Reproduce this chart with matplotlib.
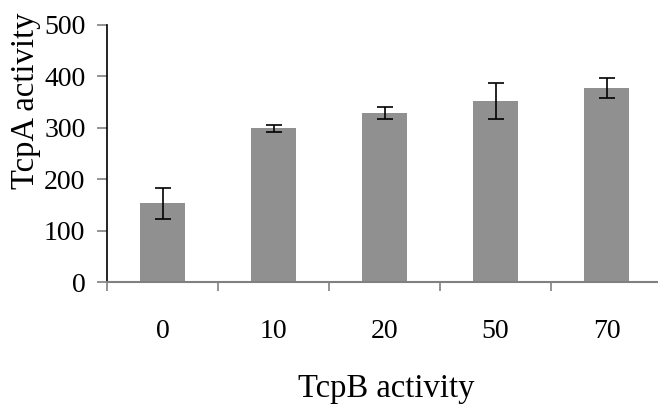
import matplotlib
matplotlib.use("Agg")
import matplotlib.pyplot as plt
import numpy as np

# data
categories = ["0", "10", "20", "50", "70"]
values = [153, 299, 329, 353, 377]
errors = [30, 7, 11, 35, 19]

plt.rcParams["font.family"] = ["Liberation Serif", "DejaVu Serif"]

fig = plt.figure(figsize=(6.58, 4.07), dpi=100)
ax = fig.add_axes([107 / 658, 1 - 282 / 407, 555 / 658, 257 / 407])

x = np.arange(len(categories))
ax.bar(x, values, width=0.41, color="#909090", zorder=2)
ax.errorbar(x, values, yerr=errors, fmt="none", ecolor="black",
            elinewidth=1.2, capsize=6, capthick=1.2, zorder=3)

ax.set_xlim(-0.5, len(categories) - 0.5)
ax.set_ylim(0, 500)
ax.set_yticks(range(0, 501, 100))

# category ticks between the bars, labels centred under the bars
ax.set_xticks(np.arange(len(categories) + 1) - 0.5)
ax.set_xticklabels([])
ax.set_xticks(x, minor=True)
ax.set_xticklabels(categories, minor=True)
ax.tick_params(axis="x", which="major", direction="out", length=6.5,
               width=1.2, color="#808080")
ax.tick_params(axis="x", which="minor", length=0, pad=27, labelsize=20)
ax.tick_params(axis="y", direction="out", length=7, width=1.2,
               color="#808080", pad=8.5, labelsize=20)

for s in ["top", "right"]:
    ax.spines[s].set_visible(False)
ax.spines["left"].set_color("black")
ax.spines["left"].set_linewidth(1.2)
ax.spines["bottom"].set_color("#808080")
ax.spines["bottom"].set_linewidth(1.5)

fig.text(26 / 658, 1 - 101 / 407, "TcpA activity", rotation=90,
         ha="center", va="center", fontsize=23.5)
fig.text(386 / 658, 1 - 389 / 407, "TcpB activity", ha="center",
         va="center", fontsize=23.5)

fig.savefig("out.png", dpi=100)
